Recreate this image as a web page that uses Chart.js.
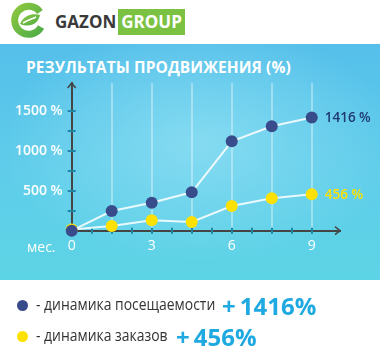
<!DOCTYPE html>
<html>
<head>
<meta charset="utf-8">
<script src="https://cdn.jsdelivr.net/npm/chart.js@4.4.1/dist/chart.umd.min.js"></script>
<style>
  html, body { margin: 0; padding: 0; }
  body { width: 380px; height: 359px; position: relative; overflow: hidden; background: #fff; font-family: "Open Sans", sans-serif; }
  #panel {
    position: absolute; left: 0; top: 44px; width: 380px; height: 236px;
    background:
      radial-gradient(ellipse 200px 120px at 200px 100px, rgba(140,222,242,0.85), rgba(140,222,242,0) 100%),
      linear-gradient(180deg, #55bfea 0%, #5fcdea 55%, #5dd4e5 100%);
  }
  #chart { position: absolute; left: 0; top: 0; }
  .title { position: absolute; left: 26px; top: 56px; color: #fff; font-weight: 700; font-size: 15.5px; letter-spacing: 0.1px; }
  .mes { position: absolute; left: 27px; top: 237px; color: #fff; font-size: 14px; }
  .brand { position: absolute; left: 55px; top: 10px; font-weight: 700; font-size: 17px; color: #3a3a3a; }
  .brand span { background: #7cc242; color: #fff; padding: 1px 3px 2px 3px; margin-left: 2px; }
  .legend { position: absolute; left: 0; color: #333; }
  .legend i { position: absolute; left: 17px; width: 11px; height: 11px; border-radius: 50%; }
  .legend .txt { position: absolute; left: 36px; white-space: nowrap; font-size: 16px; transform: scaleX(0.87); transform-origin: 0 0; }
  .legend b { position: absolute; white-space: nowrap; color: #1ea9e1; font-size: 24px; font-weight: 700; }
  .legend b em { font-style: normal; margin-right: 4px; }
</style>
</head>
<body>
<svg width="50" height="40" style="position:absolute;left:0;top:0">
  <defs>
    <linearGradient id="g1" x1="0" y1="0" x2="1" y2="1">
      <stop offset="0" stop-color="#8cc63f"/>
      <stop offset="1" stop-color="#4fae47"/>
    </linearGradient>
  </defs>
  <path d="M40 12 A14 14 0 1 0 41 27" fill="none" stroke="url(#g1)" stroke-width="7"/>
  <path d="M20 24 C24 14 34 13 40 15 C38 24 30 28 20 24 Z" fill="url(#g1)"/>
  <path d="M23 23 C28 20 32 19 36 17" fill="none" stroke="#fff" stroke-width="1.5"/>
</svg>
<div class="brand">GAZON<span>GROUP</span></div>
<div id="panel"></div>
<div class="title">РЕЗУЛЬТАТЫ ПРОДВИЖЕНИЯ (%)</div>
<canvas id="chart" width="380" height="280"></canvas>
<div class="mes">мес.</div>
<div class="legend" style="top:293px">
  <i style="top:7px;background:#384b8a"></i>
  <span class="txt">- динамика посещаемости</span>
  <b style="left:222px;top:-4px"><em>+</em>1416%</b>
</div>
<div class="legend" style="top:324px">
  <i style="top:7px;background:#ffe100"></i>
  <span class="txt">- динамика заказов</span>
  <b style="left:176px;top:-4px"><em>+</em>456%</b>
</div>
<script>
var months = [0, 1.5, 3, 4.5, 6, 7.5, 9];
var visits = [0, 246, 350, 480, 1117, 1305, 1416];
var orders = [15, 59, 130, 109, 309, 405, 456];
var xTickLabels = [0, 3, 6, 9];
var yTickLabels = [500, 1000, 1500];
var endLabels = ["1416 %", "456 %"];

var Navy = '#384b8a';
var Yellow = '#ffe100';
var TickBlue = '#1f86a6';
var AxisGrey = '#454545';

function toPoints(values) {
    return values.map(function (v, i) { return {x: months[i], y: v}; });
}

var axisExtras = {
    id: 'axisExtras',
    beforeDatasetsDraw: function (chart) {
        var ctx = chart.ctx, area = chart.chartArea;
        var x = chart.scales.x, y = chart.scales.y;
        ctx.save();
        ctx.strokeStyle = TickBlue;
        ctx.lineWidth = 2;
        x.ticks.forEach(function (t) {
            if (t.value > 0 && t.value <= 9) {
                var px = Math.round(x.getPixelForValue(t.value));
                ctx.beginPath(); ctx.moveTo(px, area.bottom - 3); ctx.lineTo(px, area.bottom + 3); ctx.stroke();
            }
        });
        y.ticks.forEach(function (t) {
            if (t.value > 0 && t.value <= 1500) {
                var py = Math.round(y.getPixelForValue(t.value));
                ctx.beginPath(); ctx.moveTo(area.left - 4, py); ctx.lineTo(area.left + 4, py); ctx.stroke();
            }
        });
        ctx.strokeStyle = AxisGrey;
        ctx.lineWidth = 1.5;
        ctx.beginPath();
        ctx.moveTo(area.left - 4, area.top + 5); ctx.lineTo(area.left, area.top); ctx.lineTo(area.left + 4, area.top + 5);
        ctx.moveTo(area.right - 5, area.bottom - 4); ctx.lineTo(area.right, area.bottom); ctx.lineTo(area.right - 5, area.bottom + 4);
        ctx.stroke();
        ctx.beginPath();
        ctx.lineWidth = 2;
        ctx.moveTo(area.left - 4, area.bottom); ctx.lineTo(area.left, area.bottom);
        ctx.stroke();
        ctx.restore();
    },
    afterDatasetsDraw: function (chart) {
        var ctx = chart.ctx;
        ctx.save();
        ctx.font = '600 13.5px "Open Sans"';
        ctx.textBaseline = 'middle';
        chart.data.datasets.forEach(function (ds, i) {
            var meta = chart.getDatasetMeta(i);
            var last = meta.data[meta.data.length - 1];
            ctx.fillStyle = i === 0 ? '#1f3872' : Yellow;
            ctx.fillText(endLabels[i], last.x + 13, last.y + 1);
        });
        ctx.restore();
    }
};

var chart = new Chart(document.getElementById('chart'), {
    type: 'line',
    data: {
        datasets: [
            {
                data: toPoints(visits),
                borderColor: 'rgba(255,255,255,0.85)',
                borderWidth: 2,
                pointRadius: 6,
                pointBorderWidth: 0,
                pointBackgroundColor: Navy,
                clip: false
            },
            {
                data: toPoints(orders),
                borderColor: 'rgba(255,255,255,0.85)',
                borderWidth: 2,
                pointRadius: 6,
                pointBorderWidth: 0,
                pointBackgroundColor: Yellow,
                clip: false
            }
        ]
    },
    options: {
        responsive: false,
        animation: false,
        devicePixelRatio: 1,
        layout: { padding: { top: 83, right: 40, bottom: 0, left: 0 } },
        plugins: { legend: { display: false }, tooltip: { enabled: false } },
        scales: {
            x: {
                type: 'linear',
                min: 0,
                max: 10.06,
                border: { color: AxisGrey, width: 2 },
                grid: {
                    drawTicks: false,
                    lineWidth: 2,
                    color: function (c) {
                        var v = c.tick ? c.tick.value : -1;
                        return (v > 0 && v <= 9 && v % 1.5 === 0) ? 'rgba(255,255,255,0.35)' : 'rgba(0,0,0,0)';
                    }
                },
                ticks: {
                    stepSize: 0.75,
                    autoSkip: false,
                    maxRotation: 0,
                    padding: 7,
                    color: '#fff',
                    font: { family: 'Open Sans', size: 14 },
                    callback: function (v) { return xTickLabels.indexOf(v) >= 0 ? String(v) : ''; }
                },
                afterFit: function (s) { s.height = 49.3; }
            },
            y: {
                min: 0,
                max: 1846,
                border: { color: AxisGrey, width: 2 },
                grid: { drawOnChartArea: false, drawTicks: false },
                ticks: {
                    stepSize: 250,
                    autoSkip: false,
                    padding: 9,
                    color: '#fff',
                    font: { family: 'Open Sans', size: 14, weight: '600' },
                    callback: function (v) { return yTickLabels.indexOf(v) >= 0 ? v + ' %' : ''; }
                },
                afterFit: function (s) { s.width = 71.7; }
            }
        }
    },
    plugins: [axisExtras]
});
</script>
</body>
</html>
